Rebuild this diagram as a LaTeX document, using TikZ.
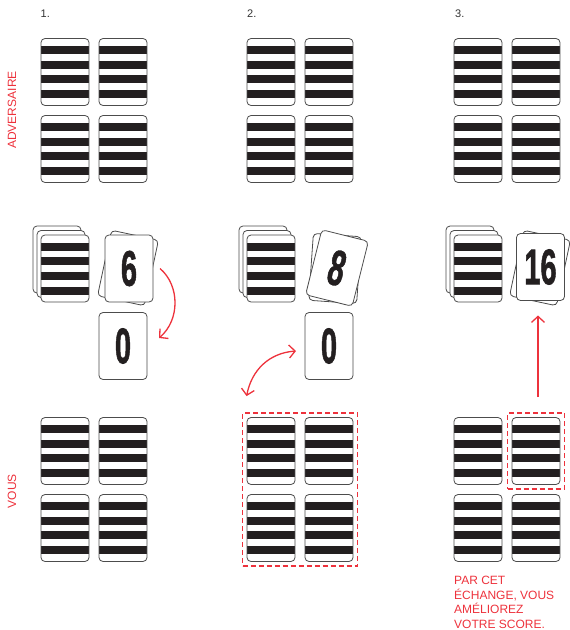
\documentclass[tikz,border=0pt]{standalone}
\usepackage{fontspec}
\setmainfont{Liberation Sans}
\newfontfamily\numfont[FakeBold=1.5]{Liberation Sans Bold}
\usepackage{graphicx}
\usetikzlibrary{arrows.meta,fit}
\definecolor{accent}{RGB}{237,50,60}
\definecolor{ink}{RGB}{35,31,32}
\newcommand{\cardnum}[1]{\scalebox{0.58}[1]{\fontsize{50}{50}\numfont #1}}

\begin{document}
\begin{tikzpicture}[x=1pt, y=-1pt, font=\fontsize{12}{14.5}\selectfont,
  card/.style={draw=black!70, line width=0.8pt, rounded corners=4pt, fill=white,
               minimum width=48pt, minimum height=67pt, inner sep=0pt, outer sep=0pt},
  back/.style={card, path picture={
      \foreach \k in {0,...,3}
        \fill[ink, sharp corners] ([yshift=-7.5pt-14.7pt*\k]path picture bounding box.north west)
          rectangle ([yshift=-15.5pt-14.7pt*\k]path picture bounding box.north east);}},
  face/.style={card, text=ink},
  pick/.style={draw=accent, dash pattern=on 5pt off 3pt, line width=1.8pt, inner sep=4.5pt},
  arr/.style={->, accent, line width=1.3pt, >={Straight Barb[length=6pt,width=13pt]}},
  steplabel/.style={text=black!80, anchor=west, inner sep=0pt, font=\fontsize{11}{13}\selectfont},
  side/.style={text=accent, rotate=90},
  note/.style={text=accent, align=left, anchor=north west, inner sep=0pt}
]
  \useasboundingbox (0,0) rectangle (570,630);

  \node[steplabel] (n1) at (40.5,14) {1.};
  \node[steplabel] (n2) at (247,14)  {2.};
  \node[steplabel] (n3) at (455,14)  {3.};
  \node[side] (adv)  at (12,110) {ADVERSAIRE};
  \node[side] (vous) at (12,491) {VOUS};

  % main de l'adversaire
  \node[back] (t1a) at (65,72)   {};
  \node[back] (t1b) at (123,72)  {};
  \node[back] (t1c) at (65,149)  {};
  \node[back] (t1d) at (123,149) {};
  \node[back] (t2a) at (271,72)  {};
  \node[back] (t2b) at (329,72)  {};
  \node[back] (t2c) at (271,149) {};
  \node[back] (t2d) at (329,149) {};
  \node[back] (t3a) at (478,72)  {};
  \node[back] (t3b) at (536,72)  {};
  \node[back] (t3c) at (478,149) {};
  \node[back] (t3d) at (536,149) {};

  % pioches
  \node[card] (d1z) at (57,259.5)  {};
  \node[card] (d1y) at (61,264)    {};
  \node[back] (d1)  at (65,268.5)  {};
  \node[card] (d2z) at (263,259.5) {};
  \node[card] (d2y) at (267,264)   {};
  \node[back] (d2)  at (271,268.5) {};
  \node[card] (d3z) at (470,259.5) {};
  \node[card] (d3y) at (474,264)   {};
  \node[back] (d3)  at (478,268.5) {};

  % cartes visibles
  \node[card, rotate=-12] (six0) at (128,268)   {};
  \node[face] (six)   at (129,268.5) {\cardnum{6}};
  \node[face] (zero1) at (123,346)   {\cardnum{0}};
  \node[card, rotate=-4] (eight0) at (335,268.5) {};
  \node[face, rotate=-14] (eight) at (337,268) {\cardnum{8}};
  \node[face] (zero2) at (329,346)   {\cardnum{0}};
  \node[card, rotate=-12] (sixteen0) at (540,268) {};
  \node[face] (sixteen) at (540.5,267) {\cardnum{16}};

  % main du joueur
  \node[back] (b1a) at (65,451)  {};
  \node[back] (b1b) at (123,451) {};
  \node[back] (b1c) at (65,528)  {};
  \node[back] (b1d) at (123,528) {};
  \node[back] (b2a) at (271,451) {};
  \node[back] (b2b) at (329,451) {};
  \node[back] (b2c) at (271,528) {};
  \node[back] (b2d) at (329,528) {};
  \node[back] (b3a) at (478,451) {};
  \node[back] (b3b) at (536,451) {};
  \node[back] (b3c) at (478,528) {};
  \node[back] (b3d) at (536,528) {};

  \node[pick, fit=(b2a)(b2d)] (swap) {};
  \node[pick, fit=(b3b)] (gain) {};

  \draw[arr] ([xshift=7pt]six.east) .. controls +(20,17) and +(21,-18)
        .. ([xshift=12pt,yshift=8pt]zero1.east);
  \draw[arr, <->] ([xshift=5pt,yshift=16pt]swap.north west) .. controls +(5,-26) and +(-27,2)
        .. ([xshift=-9pt,yshift=-5pt]zero2.west);
  \draw[arr] ([xshift=2pt,yshift=15pt]gain.north) -- ([xshift=-2.5pt,yshift=-15pt]sixteen.south);

  \node[note] (msg) at (454,576) {PAR CET\\ÉCHANGE, VOUS\\AMÉLIOREZ\\VOTRE SCORE.};
\end{tikzpicture}
\end{document}
